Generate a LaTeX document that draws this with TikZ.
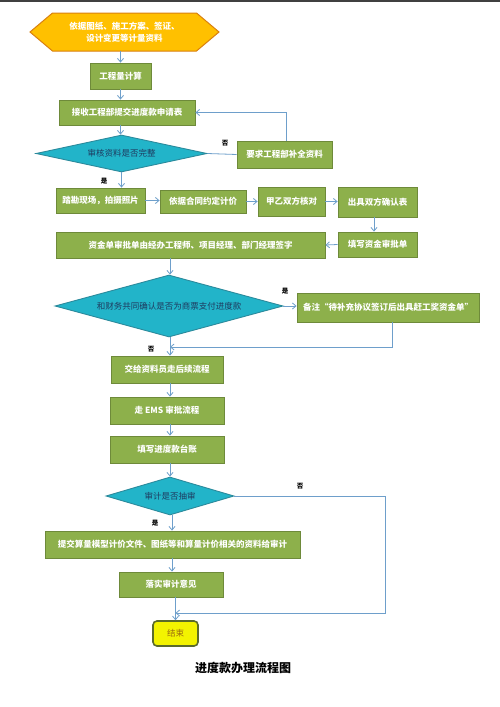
\documentclass[tikz,border=0pt]{standalone}
\usepackage{fontspec}
\newfontfamily\cjk{Noto Sans CJK SC}
\usetikzlibrary{shapes.geometric,arrows.meta}
\definecolor{gfill}{HTML}{8DB04B}
\definecolor{gborder}{HTML}{6E8A3A}
\definecolor{dfill}{HTML}{22B4C9}
\definecolor{dborder}{HTML}{2B8A9C}
\definecolor{dtext}{HTML}{1F3A5F}
\definecolor{ofill}{HTML}{FFC000}
\definecolor{oborder}{HTML}{D9800F}
\definecolor{acol}{HTML}{6E9FCB}
\definecolor{yfill}{HTML}{F3F300}
\definecolor{yborder}{HTML}{5B6B2B}
\definecolor{ytext}{HTML}{9A6A10}
\tikzset{
 gbox/.style={draw=gborder, fill=gfill, line width=0.9pt, inner sep=0pt, text=white, font=\cjk\bfseries\fontsize{8.5}{10}\selectfont},
 dia/.style={diamond, draw=dborder, fill=dfill, line width=0.9pt, inner sep=0pt, text=dtext, font=\cjk\fontsize{8.5}{10}\selectfont},
 arr/.style={draw=acol, line width=0.8pt, -{Straight Barb[length=3.5pt,width=6pt]}},
 lnk/.style={draw=acol, line width=0.8pt},
 lab/.style={font=\cjk\bfseries\fontsize{6.5}{7}\selectfont, text=black, inner sep=0pt},
}
\begin{document}
\begin{tikzpicture}[x=1pt,y=-1pt]
\useasboundingbox (0,0) rectangle (500,707);
\fill[white] (0,0) rectangle (500,707);
\fill[black!75] (0,0) rectangle (500,1.5);
% start hexagon
\coordinate (hc) at (124.5,32);
\filldraw[fill=ofill, draw=oborder, line width=1pt]
  ([shift={(-94.5,0)}]hc) -- ([shift={(-72,-19)}]hc) -- ([shift={(72,-19)}]hc)
  -- ([shift={(94.5,0)}]hc) -- ([shift={(72,19)}]hc) -- ([shift={(-72,19)}]hc) -- cycle;
\node[inner sep=0pt, minimum width=189, minimum height=38, align=center, text=white,
  font=\cjk\bfseries\fontsize{8.5}{12}\selectfont] (hex) at (hc) {依据图纸、施工方案、签证、\\设计变更等计量资料};
% boxes
\node[gbox, minimum width=61, minimum height=26] (b1) at (120.5,76) {工程量计算};
\node[gbox, minimum width=136, minimum height=25] (b2) at (127,112.5) {接收工程部提交进度款申请表};
\node[dia, aspect=4.6, minimum width=171, minimum height=37] (d1) at (121.5,153.5) {审核资料是否完整};
\node[gbox, minimum width=95, minimum height=27] (b3) at (284.5,154.5) {要求工程部补全资料};
\node[gbox, minimum width=89, minimum height=25] (r1) at (100.5,200.5) {踏勘现场，拍摄照片};
\node[gbox, minimum width=86, minimum height=23] (r2) at (203,201.5) {依据合同约定计价};
\node[gbox, minimum width=67, minimum height=29] (r3) at (291.5,201.5) {甲乙双方核对};
\node[gbox, minimum width=79, minimum height=30] (r4) at (377.5,202) {出具双方确认表};
\node[gbox, minimum width=269, minimum height=26] (s1) at (190.5,245) {资金单审批单由经办工程师、项目经理、部门经理签字};
\node[gbox, minimum width=79, minimum height=25] (s2) at (377.5,244.5) {填写资金审批单};
\node[dia, aspect=3.7, minimum width=228, minimum height=62] (d2) at (169,306) {和财务共同确认是否为商票支付进度款};
\node[gbox, minimum width=182, minimum height=29] (b4) at (388,307.5) {备注“待补充协议签订后出具赶工奖资金单”};
\node[gbox, minimum width=112, minimum height=27] (c1) at (167,369.5) {交给资料员走后续流程};
\node[gbox, minimum width=114, minimum height=27] (c2) at (167,410.5) {走 EMS 审批流程};
\node[gbox, minimum width=114, minimum height=27] (c3) at (167,449.5) {填写进度款台账};
\node[dia, aspect=3.4, minimum width=128, minimum height=38] (d3) at (170,496) {审计是否抽审};
\node[gbox, minimum width=255, minimum height=27] (e1) at (172.5,544.5) {提交算量模型计价文件、图纸等和算量计价相关的资料给审计};
\node[gbox, minimum width=104, minimum height=25] (e2) at (171,584.5) {落实审计意见};
\node[draw=yborder, fill=yfill, line width=1.6pt, rounded corners=4pt, inner sep=0pt,
  minimum width=45, minimum height=25, text=ytext, font=\cjk\fontsize{8.5}{10}\selectfont] (end) at (175.5,633.5) {结束};
\node[font=\cjk\bfseries\fontsize{12}{14}\selectfont, inner sep=0pt] (title) at (243,668) {进度款办理流程图};
% helper coordinates
\coordinate (j1) at (170,347);
\coordinate (cR) at (385,613);
\coordinate (j2) at (175.5,613);
% connectors
\draw[arr] (hex.south -| b1.north) -- (b1.north);
\draw[arr] (b1.south) -- (b1.south |- b2.north);
\draw[arr] (b1.south |- b2.south) -- (b1.south |- d1.north);
\draw[lnk] (d1.east) -- (b3.west);
\draw[arr] ([xshift=1.5pt]b3.north) |- (b2.east);
\draw[arr] (d1.south -| r1.north) ++(21,0) -- ([xshift=21pt]r1.north);
\draw[arr] (r1.east) -- (r2.west |- r1.east);
\draw[arr] (r2.east) -- (r3.west |- r2.east);
\draw[arr] (r3.east) -- (r4.west |- r3.east);
\draw[arr] ([xshift=-3.5pt]r4.south) -- ([xshift=-3.5pt]s2.north);
\draw[arr] (s2.west) -- (s1.east);
\draw[arr] (j1 |- s1.south) -- (j1 |- d2.north);
\draw[arr] (d2.east) -- (b4.west |- d2.east);
\draw[arr] ([xshift=4pt]b4.south) |- (j1);
\draw[arr] (j1 |- d2.south) -- (j1 |- c1.north);
\draw[arr] (j1 |- c1.south) -- (j1 |- c2.north);
\draw[arr] (j1 |- c2.south) -- (j1 |- c3.north);
\draw[arr] (j1 |- c3.south) -- (j1 |- d3.north);
\draw[arr] ([xshift=2pt]d3.south) -- ([xshift=2pt]d3.south |- e1.north);
\draw[arr] ([xshift=2pt]d3.south |- e1.south) -- ([xshift=2pt]d3.south |- e2.north);
\draw[arr] (j2 |- e2.south) -- (end.north);
\draw[arr] (d3.east) -| (cR) -- (j2);
% labels
\node[lab] (l1) at (225,143) {否};
\node[lab] (l2) at (104,181) {是};
\node[lab] (l3) at (285,291) {是};
\node[lab] (l4) at (151,349) {否};
\node[lab] (l5) at (300,486) {否};
\node[lab] (l6) at (155,523) {是};
\end{tikzpicture}
\end{document}
